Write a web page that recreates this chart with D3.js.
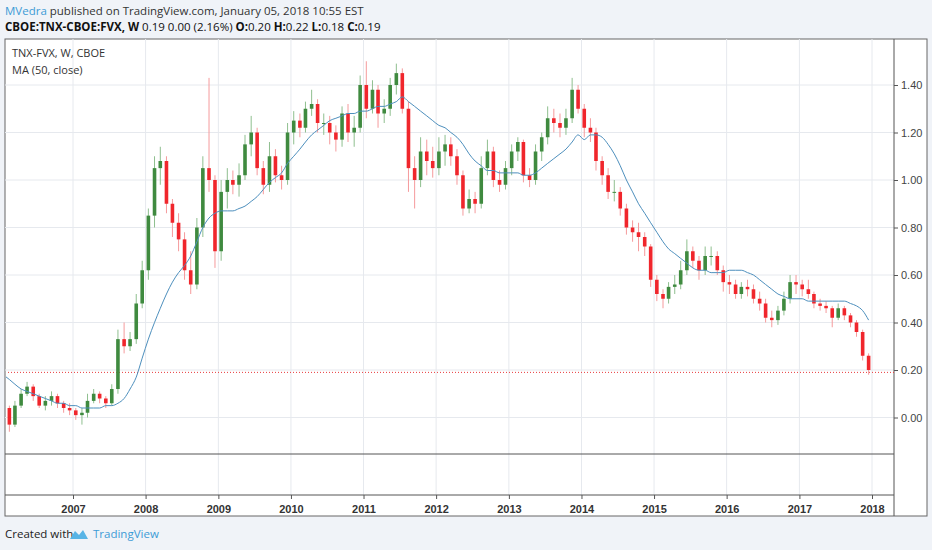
<!DOCTYPE html>
<html>
<head>
<meta charset="utf-8">
<script src="https://cdn.jsdelivr.net/npm/d3@7"></script>
<style>
  body { margin: 0; background: #f0f3f8; }
  svg { display: block; font-family: "Open Sans", "Noto Sans", sans-serif; }
</style>
</head>
<body>
<div id="chart"></div>
<script>
// monthly candles, Jan 2006 .. Dec 2017
const months = d3.range(144).map(i => new Date(2006, i, 15));
const opens = [
  .06,.04,-.03,.05,.10,.13,.09,.05,.07,.09,.06,.04,
  .03,.01,.02,.07,.10,.08,.06,.12,.33,.30,.33,.48,
  .62,.85,1.05,1.08,.90,.82,.75,.62,.56,.80,1.05,1.00,
  .70,.95,1.00,.98,1.02,1.15,1.20,1.05,.98,1.10,1.02,1.00,
  1.20,1.25,1.22,1.30,1.32,1.24,1.24,1.20,1.17,1.28,1.20,1.22,
  1.40,1.30,1.38,1.28,1.30,1.40,1.45,1.30,1.05,1.00,1.12,1.08,
  1.05,1.12,1.15,1.10,1.02,.88,.92,.90,1.05,1.12,1.00,.98,
  1.05,1.12,1.16,1.02,1.00,1.12,1.18,1.26,1.24,1.22,1.26,1.38,
  1.30,1.22,1.20,1.08,1.02,.95,.95,.88,.80,.78,.76,.72,
  .58,.52,.50,.55,.56,.62,.70,.66,.62,.68,.68,.62,
  .57,.56,.52,.55,.54,.50,.48,.42,.41,.45,.50,.57,
  .56,.54,.52,.48,.47,.46,.42,.46,.43,.40,.36,.26
];
const highs = [
  .08,.05,.07,.12,.15,.14,.10,.09,.11,.10,.07,.06,
  .04,.04,.10,.12,.11,.09,.14,.37,.40,.36,.52,.66,
  .88,1.10,1.14,1.10,.92,.86,.78,.70,.84,1.10,1.43,1.02,
  1.00,1.05,1.04,1.07,1.19,1.27,1.22,1.08,1.16,1.13,1.06,1.24,
  1.29,1.28,1.33,1.38,1.34,1.28,1.27,1.23,1.31,1.32,1.27,1.44,
  1.50,1.42,1.40,1.34,1.43,1.49,1.47,1.33,1.10,1.18,1.17,1.14,
  1.18,1.19,1.18,1.13,1.04,.96,.95,1.10,1.17,1.14,1.04,1.08,
  1.15,1.18,1.17,1.05,1.15,1.20,1.31,1.30,1.28,1.30,1.43,1.40,
  1.32,1.26,1.22,1.10,1.05,1.00,.97,.90,.83,.82,.78,.73,
  .60,.54,.57,.60,.66,.75,.72,.68,.72,.72,.70,.64,
  .60,.58,.57,.58,.56,.53,.50,.45,.47,.53,.60,.60,
  .58,.58,.53,.50,.49,.47,.48,.47,.44,.41,.37,.27
];
const lows = [
  .02,-.06,-.04,.04,.09,.07,.04,.03,.05,.04,.02,.01,
  -.01,-.03,.00,.06,.06,.04,.05,.10,.27,.28,.31,.46,
  .58,.80,.98,.86,.76,.70,.58,.52,.54,.76,.95,.63,
  .66,.88,.94,.93,1.00,1.10,1.02,.94,.95,.99,.96,.98,
  1.15,1.18,1.20,1.27,1.20,1.19,1.15,1.12,1.14,1.16,1.14,1.20,
  1.26,1.28,1.22,1.24,1.27,1.36,1.28,.95,.88,.97,1.02,1.01,
  1.02,1.06,1.06,.98,.85,.86,.86,.88,1.02,.97,.95,.96,
  1.02,1.08,.99,.97,.98,1.08,1.15,1.20,1.18,1.19,1.24,1.28,
  1.18,1.16,1.04,.98,.92,.91,.85,.77,.74,.70,.68,.55,
  .49,.46,.48,.52,.54,.60,.63,.58,.60,.64,.60,.53,
  .52,.50,.50,.51,.48,.45,.40,.38,.39,.43,.48,.52,
  .51,.50,.46,.45,.44,.38,.41,.41,.38,.34,.24,.18
];
const closes = [
  .04,-.03,.05,.10,.13,.09,.05,.07,.09,.06,.04,.03,
  .01,.02,.07,.10,.08,.06,.12,.33,.30,.33,.48,.62,
  .85,1.05,1.08,.90,.82,.75,.62,.56,.80,1.05,1.00,.70,
  .95,1.00,.98,1.02,1.15,1.20,1.05,.98,1.10,1.02,1.00,1.20,
  1.25,1.22,1.30,1.32,1.24,1.24,1.20,1.17,1.28,1.20,1.22,1.40,
  1.30,1.38,1.28,1.30,1.40,1.45,1.30,1.05,1.00,1.12,1.08,1.05,
  1.12,1.15,1.10,1.02,.88,.92,.90,1.05,1.12,1.00,.98,1.05,
  1.12,1.16,1.02,1.00,1.12,1.18,1.26,1.24,1.22,1.26,1.38,1.30,
  1.22,1.20,1.08,1.02,.95,.95,.88,.80,.78,.76,.72,.58,
  .52,.50,.55,.56,.62,.70,.66,.62,.68,.68,.62,.57,
  .56,.52,.55,.54,.50,.48,.42,.41,.45,.50,.57,.56,
  .54,.52,.48,.47,.46,.42,.46,.43,.40,.36,.26,.20
];
// MA (50, close) as drawn on the chart
const maValues = [
  .18,.16,.14,.12,.11,.10,.09,.08,.07,.06,.06,.05,
  .05,.04,.04,.04,.04,.05,.05,.06,.08,.12,.17,.25,
  .33,.40,.46,.52,.57,.61,.64,.68,.74,.80,.84,.86,
  .87,.87,.87,.88,.89,.91,.93,.96,.99,1.01,1.03,1.07,
  1.10,1.13,1.16,1.19,1.21,1.23,1.25,1.26,1.27,1.28,1.28,1.29,
  1.29,1.30,1.31,1.31,1.32,1.33,1.35,1.33,1.31,1.29,1.27,1.25,
  1.23,1.22,1.20,1.18,1.15,1.11,1.08,1.06,1.04,1.04,1.03,1.03,
  1.03,1.03,1.02,1.02,1.03,1.05,1.07,1.09,1.11,1.13,1.16,1.19,
  1.17,1.19,1.19,1.18,1.15,1.11,1.06,1.00,.95,.90,.86,.82,
  .78,.74,.71,.69,.67,.65,.63,.62,.62,.61,.61,.61,
  .62,.62,.62,.61,.60,.58,.56,.54,.52,.51,.50,.50,
  .50,.49,.49,.49,.49,.49,.49,.49,.48,.47,.45,.41
];
const lastClose = 0.19;
const yTicks = [0, 0.2, 0.4, 0.6, 0.8, 1.0, 1.2, 1.4];
const years = d3.range(2007, 2019);

const W = 932, H = 550;
const panel = { left: 5, right: 927, top: 39, bottom: 516 };
const plotRight = 894, mainBottom = 454, subBottom = 495;

const svg = d3.select("#chart").append("svg")
  .attr("width", W).attr("height", H);

// header
svg.append("text").attr("x", 5).attr("y", 15).style("font-size", "11.5px")
  .html('<tspan fill="#3d9bd6">MVedra</tspan><tspan fill="#333"> published on TradingView.com, January 05, 2018 10:55 EST</tspan>');
svg.append("text").attr("x", 5).attr("y", 31).style("font-size", "11.5px").attr("fill", "#111")
  .html('<tspan font-weight="bold">CBOE:TNX-CBOE:FVX, W</tspan>  0.19 0.00 (2.16%) <tspan font-weight="bold">O:</tspan>0.20 <tspan font-weight="bold">H:</tspan>0.22 <tspan font-weight="bold">L:</tspan>0.18 <tspan font-weight="bold">C:</tspan>0.19');

// panel
svg.append("rect")
  .attr("x", panel.left).attr("y", panel.top)
  .attr("width", panel.right - panel.left).attr("height", panel.bottom - panel.top)
  .attr("fill", "#fff").attr("stroke", "#666").attr("stroke-width", 1);

const x = d3.scaleTime()
  .domain([new Date(2007, 0, 1), new Date(2018, 0, 1)])
  .range([73, 872]);
const y = d3.scaleLinear().domain([0, 1.4]).range([417.5, 85]);

svg.append("defs").append("clipPath").attr("id", "clip")
  .append("rect").attr("x", panel.left + 1).attr("y", panel.top)
  .attr("width", plotRight - panel.left - 1).attr("height", mainBottom - panel.top);

// grid
svg.append("g").selectAll("line").data(years).join("line")
  .attr("x1", d => x(new Date(d, 0, 1))).attr("x2", d => x(new Date(d, 0, 1)))
  .attr("y1", panel.top).attr("y2", subBottom)
  .attr("stroke", "#e6e9ee");
svg.append("g").selectAll("line").data(yTicks).join("line")
  .attr("x1", panel.left).attr("x2", plotRight)
  .attr("y1", d => y(d)).attr("y2", d => y(d))
  .attr("stroke", "#e6e9ee");

// pane separators and axes lines
svg.append("line").attr("x1", panel.left).attr("x2", plotRight)
  .attr("y1", mainBottom).attr("y2", mainBottom).attr("stroke", "#555");
svg.append("line").attr("x1", panel.left).attr("x2", plotRight)
  .attr("y1", subBottom).attr("y2", subBottom).attr("stroke", "#555");
svg.append("line").attr("x1", plotRight).attr("x2", plotRight)
  .attr("y1", panel.top).attr("y2", panel.bottom - 0).attr("stroke", "#555");

// right axis
const yAxis = svg.append("g").attr("transform", `translate(${plotRight},0)`)
  .call(d3.axisRight(y).tickValues(yTicks).tickFormat(d3.format(".2f")).tickSize(4).tickPadding(3));
yAxis.select(".domain").remove();
yAxis.selectAll("line").attr("stroke", "#555");
yAxis.selectAll("text").attr("fill", "#444").style("font-size", "11px");

// bottom axis
const xAxis = svg.append("g").attr("transform", `translate(0,${subBottom})`)
  .call(d3.axisBottom(x).tickValues(years.map(d => new Date(d, 0, 1)))
    .tickFormat(d3.timeFormat("%Y")).tickSize(4).tickPadding(6));
xAxis.select(".domain").remove();
xAxis.selectAll("line").attr("stroke", "#555");
xAxis.selectAll("text").attr("fill", "#333").style("font-size", "11px").style("font-weight", "bold");

const plot = svg.append("g").attr("clip-path", "url(#clip)");

// last price line
plot.append("line").attr("x1", panel.left).attr("x2", plotRight)
  .attr("y1", y(lastClose)).attr("y2", y(lastClose))
  .attr("stroke", "#e8393c").attr("stroke-dasharray", "1,2");

const up = "#3f8a3f", down = "#f0262c";
const bw = 3.6;
const candles = plot.append("g").selectAll("g").data(months).join("g");
candles.append("line")
  .attr("x1", (d, i) => x(d)).attr("x2", (d, i) => x(d))
  .attr("y1", (d, i) => y(highs[i])).attr("y2", (d, i) => y(lows[i]))
  .attr("stroke", (d, i) => closes[i] >= opens[i] ? "#8fbf8f" : "#f59a9c")
  .attr("stroke-width", 1);
candles.append("rect")
  .attr("x", d => x(d) - bw / 2).attr("width", bw)
  .attr("y", (d, i) => y(Math.max(opens[i], closes[i])))
  .attr("height", (d, i) => Math.max(1, Math.abs(y(opens[i]) - y(closes[i]))))
  .attr("fill", (d, i) => closes[i] >= opens[i] ? up : down);

// moving average
plot.append("path").datum(maValues)
  .attr("fill", "none").attr("stroke", "#4d8fbd").attr("stroke-width", 1)
  .attr("d", d3.line().x((d, i) => x(months[i])).y(d => y(d)).curve(d3.curveMonotoneX));

// legend
svg.append("text").attr("x", 12).attr("y", 57).attr("fill", "#333").style("font-size", "11px").text("TNX-FVX, W, CBOE");
svg.append("text").attr("x", 12).attr("y", 74).attr("fill", "#333").style("font-size", "11px").text("MA (50, close)");

// footer
svg.append("text").attr("x", 5).attr("y", 538).attr("fill", "#222").style("font-size", "11.5px").text("Created with");
svg.append("path").attr("d", "M70,539 l5,-8 l4,4 l4,-5 l5,9 z").attr("fill", "#58b4e6");
svg.append("text").attr("x", 93).attr("y", 538).attr("fill", "#3d9bd6").style("font-size", "11.5px").text("TradingView");
</script>
</body>
</html>
